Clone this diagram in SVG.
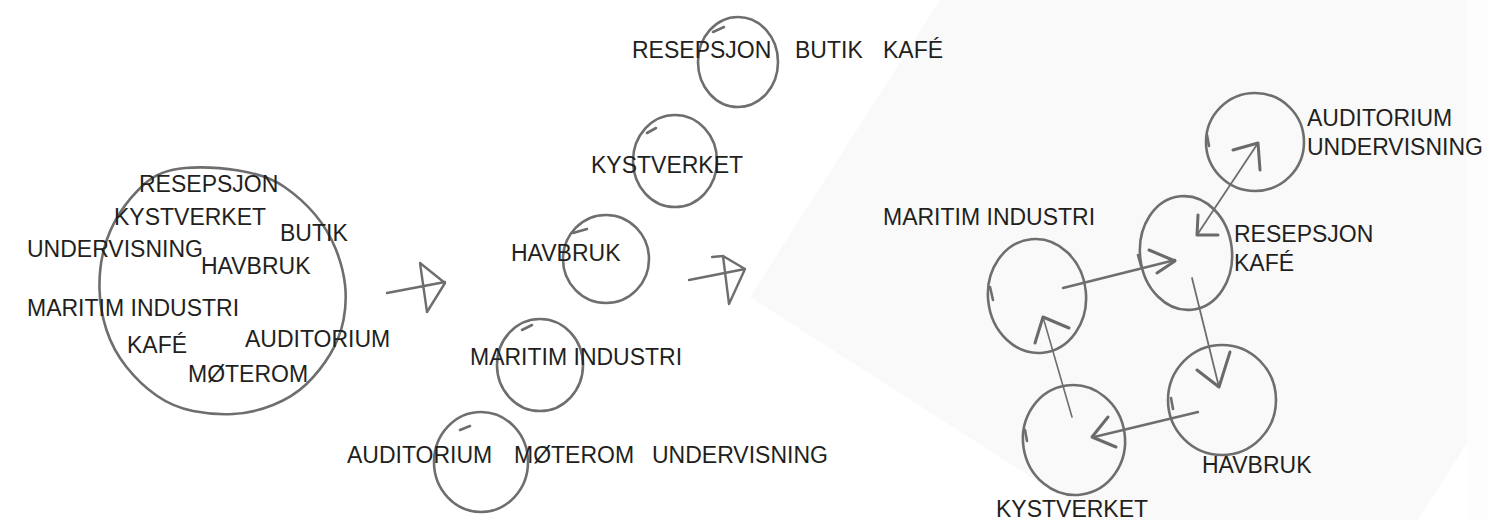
<svg xmlns="http://www.w3.org/2000/svg" width="1489" height="520" viewBox="0 0 1489 520">
<style>
.t{font-family:"Liberation Sans",Arial,sans-serif;font-size:23px;fill:#231f20}
.c{fill:none;stroke:#6e6e6e;stroke-width:2.6;stroke-linecap:round;stroke-linejoin:round}
.a{fill:none;stroke:#6e6e6e;stroke-width:2.4;stroke-linecap:round;stroke-linejoin:round}
.h{fill:none;stroke:#6a6a6a;stroke-width:3;stroke-linecap:round;stroke-linejoin:round}
</style>
<rect x="0" y="0" width="1489" height="520" fill="#ffffff"/>
<polygon points="940,0 1467,0 1467,443 1418,520 1098,520 750,297" fill="#f9f9f9"/>
<rect x="1467" y="0" width="22" height="520" fill="#fdfdfd"/>

<g id="cluster-all">
<path class="c" d="M185,168 Q210,166 238.5,170.5 Q267,175 284.5,187 Q302,199 315,214.5 Q328,230 335.5,248.5 Q343,267 345,284.5 Q347,302 343.5,320 Q340,338 330,354.5 Q320,371 306.5,384 Q293,397 273,405 Q253,413 233,414 Q213,415 193,411 Q173,407 156.5,395.5 Q140,384 126.5,367 Q113,350 106.5,330 Q100,310 99.5,289 Q99,268 104,249 Q109,230 119.5,213.5 Q130,197 145,183.5 Q160,170 185,168"/>
<text class="t" x="139" y="192">RESEPSJON</text>
<text class="t" x="114" y="225">KYSTVERKET</text>
<text class="t" x="280" y="241">BUTIK</text>
<text class="t" x="27" y="257">UNDERVISNING</text>
<text class="t" x="201" y="274">HAVBRUK</text>
<text class="t" x="27" y="316">MARITIM INDUSTRI</text>
<text class="t" x="245" y="347">AUDITORIUM</text>
<text class="t" x="127" y="353">KAFÉ</text>
<text class="t" x="188" y="382">MØTEROM</text>
</g>

<g id="mid-1">
<ellipse class="c" cx="738" cy="62" rx="40" ry="45"/>
<path class="c" d="M713,32 L724,27"/>
<text class="t" x="632" y="58">RESEPSJON</text>
<text class="t" x="795" y="58">BUTIK</text>
<text class="t" x="883" y="58">KAFÉ</text>
</g>
<g id="mid-2">
<ellipse class="c" cx="675" cy="161" rx="42" ry="46"/>
<path class="c" d="M647,133 L656,128"/>
<text class="t" x="591" y="173">KYSTVERKET</text>
</g>
<g id="mid-3">
<ellipse class="c" cx="606" cy="259" rx="43" ry="44"/>
<path class="c" d="M573,233 L587,229"/>
<text class="t" x="511" y="261">HAVBRUK</text>
</g>
<g id="mid-4">
<ellipse class="c" cx="540" cy="365" rx="43" ry="46"/>
<path class="c" d="M522,330 L532,325"/>
<text class="t" x="470" y="365">MARITIM INDUSTRI</text>
</g>
<g id="mid-5">
<ellipse class="c" cx="481" cy="462" rx="47" ry="50"/>
<path class="c" d="M460,430 L470,426"/>
<text class="t" x="347" y="463">AUDITORIUM</text>
<text class="t" x="514" y="463">MØTEROM</text>
<text class="t" x="652" y="463">UNDERVISNING</text>
</g>

<g id="r-auditorium">
<ellipse class="c" cx="1255" cy="142" rx="49" ry="49"/>
<path class="c" d="M1207,135 L1209,146"/>
<text class="t" x="1307" y="126">AUDITORIUM</text>
<text class="t" x="1307" y="155">UNDERVISNING</text>
</g>
<g id="r-resepsjon">
<ellipse class="c" cx="1186" cy="253" rx="46" ry="57" transform="rotate(-6 1186 253)"/>
<path class="c" d="M1138,255 L1141,266"/>
<text class="t" x="1234" y="242">RESEPSJON</text>
<text class="t" x="1234" y="271">KAFÉ</text>
</g>
<g id="r-maritim">
<ellipse class="c" cx="1037" cy="296" rx="49" ry="57" transform="rotate(-6 1037 296)"/>
<path class="c" d="M990,287 L993,300"/>
<text class="t" x="883" y="225">MARITIM INDUSTRI</text>
</g>
<g id="r-havbruk">
<ellipse class="c" cx="1222" cy="400" rx="54" ry="55"/>
<path class="c" d="M1171,398 L1173,409"/>
<text class="t" x="1202" y="473">HAVBRUK</text>
</g>
<g id="r-kystverket">
<ellipse class="c" cx="1074" cy="440" rx="51" ry="55" transform="rotate(-8 1074 440)"/>
<path class="c" d="M1025,430 L1027,441"/>
<text class="t" x="996" y="517">KYSTVERKET</text>
</g>

<g id="connectors">
<path class="a" d="M387,293 L445,282 M420,263 L445,283 L427,312 M420,263 L427,312"/>
<path class="a" d="M689,280 L745,269 M723,256 L745,269 L729,304 M723,256 L729,304 M712,257 L723,256"/>
<path class="a" d="M1063,288 L1175,260"/>
<path class="h" d="M1149,250 L1175,261 L1157,273"/>
<path class="a" style="stroke-width:1.6" d="M1072,417 L1043,317"/>
<path class="h" d="M1035,343 L1043,317 L1069,328"/>
<path class="a" d="M1198,412 L1094,437"/>
<path class="h" d="M1108,417 L1092,437 L1116,447"/>
<path class="a" style="stroke-width:1.8" d="M1192,278 L1219,387"/>
<path class="h" d="M1197,370 L1219,387 L1230,352"/>
<path class="a" style="stroke-width:1.8" d="M1197,235 L1258,143"/>
<path class="h" d="M1198,215 L1197,235 L1218,235 M1233,150 L1258,143 L1260,170"/>
</g>
</svg>
